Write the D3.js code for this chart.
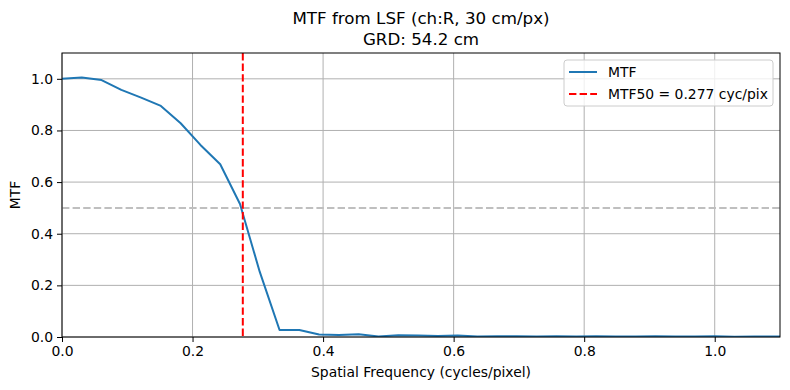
<!DOCTYPE html>
<html>
<head>
<meta charset="utf-8">
<script src="https://cdn.jsdelivr.net/npm/d3@7"></script>
<style>
  body { margin: 0; background: #fff; }
  svg { display: block; font-family: "DejaVu Sans", sans-serif; }
</style>
</head>
<body>
<script>
// spatial frequency samples (cycles/pixel)
const freqs = [0, 0.0303, 0.0606, 0.0909, 0.1212, 0.1515, 0.1818, 0.2121, 0.2424, 0.2727,
    0.3030, 0.3333, 0.3636, 0.3939, 0.4242, 0.4545, 0.4848, 0.5152, 0.5455, 0.5758,
    0.6061, 0.6364, 0.6667, 0.6970, 0.7273, 0.7576, 0.7879, 0.8182, 0.8485, 0.8788,
    0.9091, 0.9394, 0.9697, 1.0000, 1.0303, 1.0606, 1.0909, 1.1212];
// MTF values
const mtfValues = [1.000, 1.005, 0.995, 0.957, 0.927, 0.895, 0.828, 0.744, 0.669, 0.515,
    0.252, 0.027, 0.027, 0.010, 0.008, 0.011, 0.002, 0.007, 0.006, 0.004,
    0.006, 0.002, 0.003, 0.003, 0.002, 0.003, 0.002, 0.003, 0.002, 0.002,
    0.003, 0.002, 0.002, 0.003, 0.001, 0.002, 0.002, 0.001];
const mtf50 = 0.277;
const xTicks = [0, 0.2, 0.4, 0.6, 0.8, 1.0];
const yTicks = [0, 0.2, 0.4, 0.6, 0.8, 1.0];
const titleLines = ["MTF from LSF (ch:R, 30 cm/px)", "GRD: 54.2 cm"];
const legendLabels = ["MTF", "MTF50 = " + mtf50.toFixed(3) + " cyc/pix"];

const W = 790, H = 390;
const margin = {top: 53, right: 10, bottom: 53, left: 62};
const width = W - margin.left - margin.right,
    height = H - margin.top - margin.bottom;
const fs = 13.9;

const svg = d3.select("body").append("svg")
    .attr("width", W)
    .attr("height", H);

svg.append("rect").attr("width", W).attr("height", H).attr("fill", "#fff");

const x = d3.scaleLinear().domain([0, 1.1]).range([0, width]);
const y = d3.scaleLinear().domain([0, 1.1]).range([height, 0]);

const g = svg.append("g")
    .attr("transform", "translate(" + margin.left + "," + margin.top + ")");

g.append("clipPath").attr("id", "clip")
    .append("rect").attr("width", width).attr("height", height);

// grid
g.append("g").selectAll("line").data(xTicks).enter().append("line")
    .attr("x1", d => x(d)).attr("x2", d => x(d))
    .attr("y1", 0).attr("y2", height)
    .attr("stroke", "#b0b0b0").attr("stroke-width", 1);
g.append("g").selectAll("line").data(yTicks).enter().append("line")
    .attr("y1", d => y(d)).attr("y2", d => y(d))
    .attr("x1", 0).attr("x2", width)
    .attr("stroke", "#b0b0b0").attr("stroke-width", 1);

const plot = g.append("g").attr("clip-path", "url(#clip)");

// MTF curve
const pts = freqs.map((f, i) => [f, mtfValues[i]]);
plot.append("path")
    .datum(pts)
    .attr("fill", "none")
    .attr("stroke", "#1f77b4")
    .attr("stroke-width", 2)
    .attr("stroke-linejoin", "round")
    .attr("d", d3.line().x(d => x(d[0])).y(d => y(d[1])));

// 0.5 reference
plot.append("line")
    .attr("x1", 0).attr("x2", width)
    .attr("y1", y(0.5)).attr("y2", y(0.5))
    .attr("stroke", "#bfbfbf").attr("stroke-width", 2)
    .attr("stroke-dasharray", "7.4,3.2");

// MTF50 marker
plot.append("line")
    .attr("x1", x(mtf50)).attr("x2", x(mtf50))
    .attr("y1", 0).attr("y2", height)
    .attr("stroke", "red").attr("stroke-width", 2)
    .attr("stroke-dasharray", "7.4,3.2");

// axes
const xAxis = g.append("g")
    .attr("transform", "translate(0," + height + ")")
    .call(d3.axisBottom(x).tickValues(xTicks).tickFormat(d3.format(".1f")).tickSize(5).tickPadding(4));
const yAxis = g.append("g")
    .call(d3.axisLeft(y).tickValues(yTicks).tickFormat(d3.format(".1f")).tickSize(5).tickPadding(4));
[xAxis, yAxis].forEach(a => {
    a.select(".domain").remove();
    a.selectAll("text").attr("font-family", "DejaVu Sans").attr("font-size", fs).attr("fill", "#000");
    a.selectAll("line").attr("stroke", "#000").attr("stroke-width", 1);
});

// frame
g.append("rect")
    .attr("width", width).attr("height", height)
    .attr("fill", "none").attr("stroke", "#000").attr("stroke-width", 1);

// labels
svg.append("text")
    .attr("x", margin.left + width / 2).attr("y", 377)
    .attr("text-anchor", "middle").attr("font-size", fs)
    .text("Spatial Frequency (cycles/pixel)");
svg.append("text")
    .attr("transform", "translate(20," + (margin.top + height / 2) + ") rotate(-90)")
    .attr("text-anchor", "middle").attr("font-size", fs)
    .text("MTF");

svg.append("g").selectAll("text").data(titleLines).enter().append("text")
    .attr("x", margin.left + width / 2)
    .attr("y", (d, i) => 24 + i * 21)
    .attr("text-anchor", "middle").attr("font-size", 16.7)
    .text(d => d);

// legend
const leg = svg.append("g").attr("transform", "translate(564,60)");
leg.append("rect")
    .attr("width", 209).attr("height", 46).attr("rx", 3)
    .attr("fill", "#fff").attr("fill-opacity", 0.8)
    .attr("stroke", "#cccccc").attr("stroke-width", 1);
const legStyles = [{color: "#1f77b4", dash: null}, {color: "red", dash: "7.4,3.2"}];
legendLabels.forEach((lab, i) => {
    const yy = 12 + i * 22;
    leg.append("line")
        .attr("x1", 5).attr("x2", 33).attr("y1", yy).attr("y2", yy)
        .attr("stroke", legStyles[i].color).attr("stroke-width", 2)
        .attr("stroke-dasharray", legStyles[i].dash);
    leg.append("text")
        .attr("x", 44).attr("y", yy + 5)
        .attr("font-size", fs)
        .text(lab);
});
</script>
</body>
</html>
